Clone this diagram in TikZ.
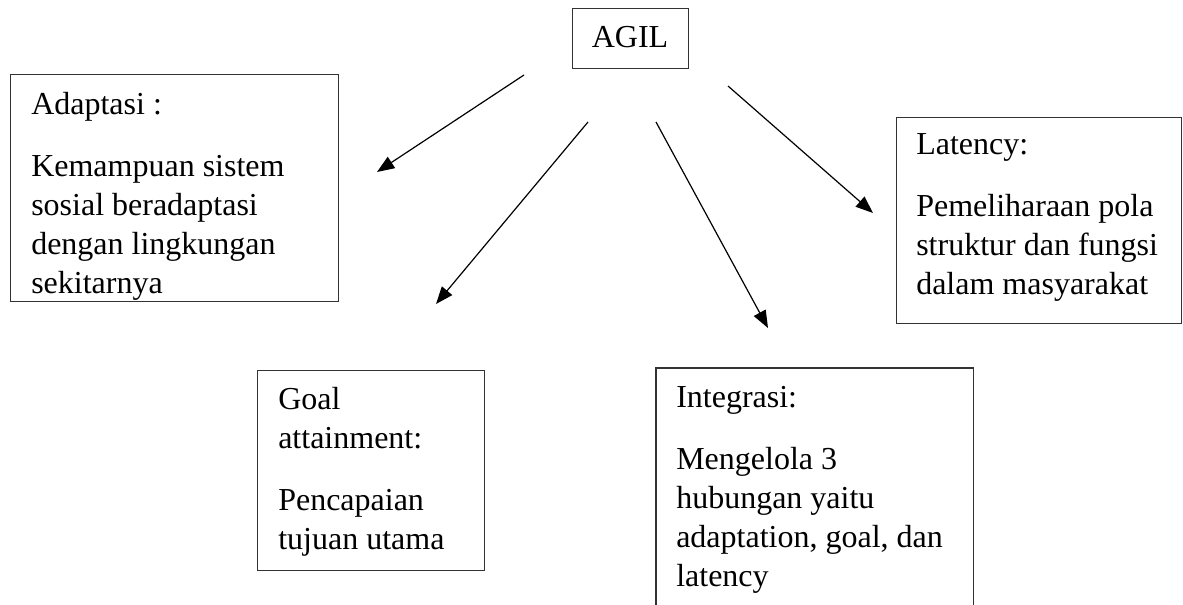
\documentclass[tikz,border=0pt]{standalone}
\usepackage{fontspec}
\setmainfont{Liberation Serif}
\usetikzlibrary{arrows.meta}
\begin{document}
\begin{tikzpicture}[x=0.75pt,y=-0.75pt,
  frame/.style={draw=black!80,line width=1.1pt,rectangle,inner sep=0pt,anchor=north west},
  txt/.style={inner sep=0pt,anchor=base west,align=left,font=\fontsize{24pt}{29.25pt}\selectfont},
  arr/.style={line width=0.9pt,-{Triangle[length=13pt,width=10pt]}}]
\useasboundingbox (0,0) rectangle (1183,605);
% boxes
\node[frame,minimum width=87pt,minimum height=45pt] (agil) at (572,8) {};
\node[font=\fontsize{24pt}{29.25pt}\selectfont,inner sep=0pt,anchor=base] (agilt) at (630,48) {AGIL};
\node[frame,minimum width=246pt,minimum height=170.25pt] (adapt) at (10,74) {};
\node[frame,minimum width=213.75pt,minimum height=154.5pt] (lat) at (896,117) {};
\node[frame,minimum width=170.25pt,minimum height=150pt] (goal) at (257,370) {};
\node[inner sep=0pt,anchor=north west,minimum width=237.75pt,minimum height=177pt] (integ) at (656,368) {};
\draw[draw=black!80,line width=1.1pt] (integ.south west) -- (integ.north west) -- (integ.north east) -- (integ.south east);
% texts (anchored at the baseline of their last line)
\node[txt] (adaptt) at (31,294) {Adaptasi :\\[17.25pt]Kemampuan sistem\\sosial beradaptasi\\dengan lingkungan\\sekitarnya};
\node[txt] (latt) at (916,295) {Latency:\\[17.25pt]Pemeliharaan pola\\struktur dan fungsi\\dalam masyarakat};
\node[txt] (goalt) at (278,550) {Goal\\attainment:\\[17.25pt]Pencapaian\\tujuan utama};
\node[txt] (integt) at (676,587) {Integrasi:\\[17.25pt]Mengelola 3\\hubungan yaitu\\adaptation, goal, dan\\latency};
% arrows
\coordinate (a1s) at (524,75);  \coordinate (a1e) at (377,172);
\coordinate (a2s) at (588,122); \coordinate (a2e) at (436,304);
\coordinate (a3s) at (656,122); \coordinate (a3e) at (768,328);
\coordinate (a4s) at (728,86);  \coordinate (a4e) at (873,213);
\draw[arr] (a1s) -- (a1e);
\draw[arr] (a2s) -- (a2e);
\draw[arr] (a3s) -- (a3e);
\draw[arr] (a4s) -- (a4e);
\end{tikzpicture}
\end{document}
